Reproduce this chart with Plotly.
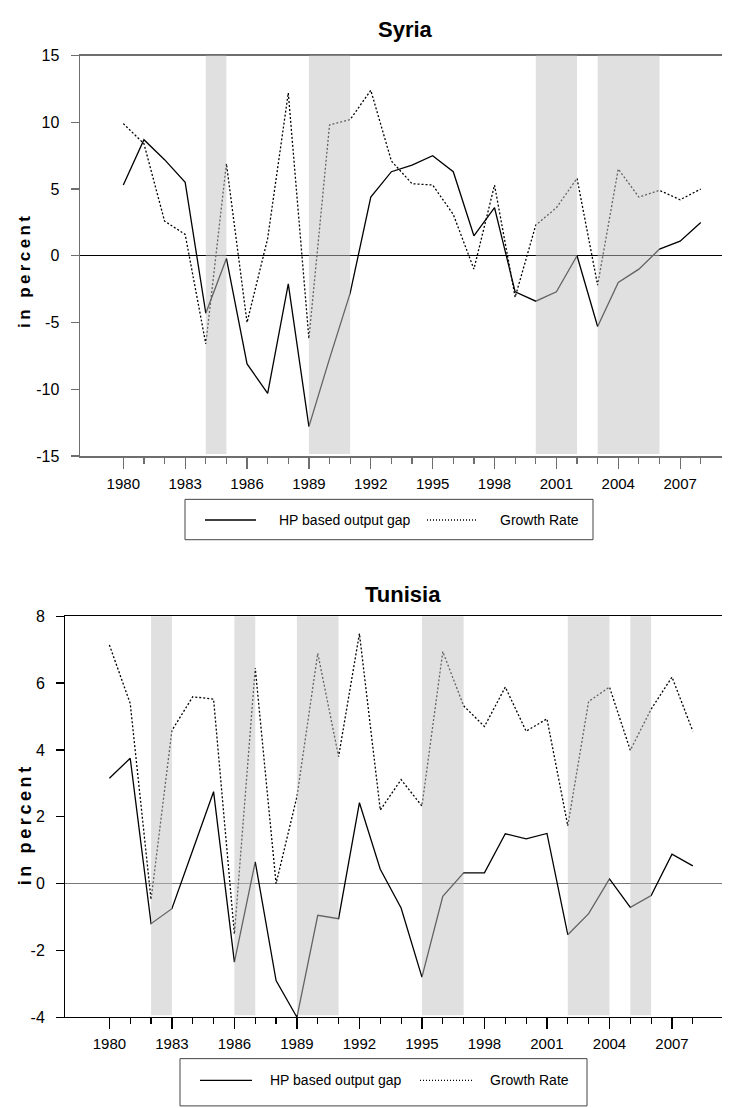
import plotly.graph_objects as go

# ---------------- data ----------------
years = list(range(1980, 2009))

syria_hp = [5.3, 8.7, 7.2, 5.5, -4.3, -0.2, -8.1, -10.3, -2.1, -12.8, -7.7, -2.8,
            4.4, 6.3, 6.8, 7.5, 6.3, 1.5, 3.6, -2.7, -3.4, -2.7, 0.0, -5.3,
            -2.0, -1.0, 0.5, 1.1, 2.5]
syria_growth = [9.9, 8.4, 2.6, 1.6, -6.6, 6.9, -5.0, 1.3, 12.2, -6.2, 9.8, 10.2,
                12.4, 7.1, 5.4, 5.3, 3.1, -1.0, 5.3, -3.1, 2.3, 3.6, 5.8, -2.2,
                6.5, 4.4, 4.9, 4.2, 5.0]

tunisia_hp = [3.15, 3.75, -1.2, -0.75, 1.0, 2.75, -2.35, 0.65, -2.9, -4.0, -0.95, -1.05,
              2.42, 0.43, -0.73, -2.8, -0.38, 0.32, 0.32, 1.49, 1.34, 1.5, -1.53, -0.9,
              0.14, -0.71, -0.36, 0.88, 0.53]
tunisia_growth = [7.14, 5.39, -0.48, 4.58, 5.59, 5.52, -1.51, 6.45, 0.0, 2.6, 6.89, 3.8,
                  7.48, 2.2, 3.11, 2.32, 6.94, 5.32, 4.7, 5.88, 4.56, 4.93, 1.73, 5.45,
                  5.88, 3.99, 5.22, 6.18, 4.56]

syria_shades = [(1984, 1985), (1989, 1991), (2000, 2002), (2003, 2006)]
tunisia_shades = [(1982, 1983), (1986, 1987), (1989, 1991), (1995, 1997), (2002, 2004), (2005, 2006)]

x_tick_vals = list(range(1980, 2009, 3))
x_tick_labels = [str(y) for y in x_tick_vals]
syria_y_ticks = [-15, -10, -5, 0, 5, 10, 15]
tunisia_y_ticks = [-4, -2, 0, 2, 4, 6, 8]

series_names = ["HP based output gap", "Growth Rate"]
titles = ["Syria", "Tunisia"]
y_title = "in percent"

# ---------------- layout helpers ----------------
W, H = 730, 1108
FONT = "Liberation Sans, Arial, sans-serif"


def px(x):
    return x / W


def py(y):
    return 1 - y / H


fig = go.Figure()

for i, (hp, gr) in enumerate([(syria_hp, syria_growth), (tunisia_hp, tunisia_growth)]):
    xa = "x" if i == 0 else "x2"
    ya = "y" if i == 0 else "y2"
    fig.add_trace(go.Scatter(x=years, y=hp, mode="lines", name=series_names[0],
                             line=dict(color="black", width=1.3), xaxis=xa, yaxis=ya,
                             showlegend=False, hoverinfo="skip"))
    fig.add_trace(go.Scatter(x=years, y=gr, mode="lines", name=series_names[1],
                             line=dict(color="black", width=1.3, dash="2px,2px"),
                             xaxis=xa, yaxis=ya, showlegend=False, hoverinfo="skip"))

shapes = []
for i, shades in enumerate([syria_shades, tunisia_shades]):
    xr = "x" if i == 0 else "x2"
    yr = "y domain" if i == 0 else "y2 domain"
    for a, b in shades:
        shapes.append(dict(type="rect", xref=xr, yref=yr, x0=a, x1=b, y0=0.005, y1=1,
                           fillcolor="rgb(195,195,195)", opacity=0.51,
                           line=dict(width=0), layer="above"))

# legends (decoration)
legend_boxes = [
    dict(box=(185, 499, 593, 540), solid=(205, 256), dotted=(427, 478), ly=520,
         t1=277, t2=498),
    dict(box=(180, 1067, 587, 1115), solid=(200, 252), dotted=(420, 472), ly=1089,
         t1=268, t2=488),
]
annotations = []
for lb in legend_boxes:
    x0, y0, x1, y1 = lb["box"]
    shapes.append(dict(type="rect", xref="paper", yref="paper", x0=px(x0), x1=px(x1),
                       y0=py(y0), y1=py(y1), line=dict(color="#444444", width=1),
                       fillcolor="rgba(0,0,0,0)"))
    shapes.append(dict(type="line", xref="paper", yref="paper", x0=px(lb["solid"][0]),
                       x1=px(lb["solid"][1]), y0=py(lb["ly"]), y1=py(lb["ly"]),
                       line=dict(color="black", width=1.3)))
    shapes.append(dict(type="line", xref="paper", yref="paper", x0=px(lb["dotted"][0]),
                       x1=px(lb["dotted"][1]), y0=py(lb["ly"]), y1=py(lb["ly"]),
                       line=dict(color="black", width=1.3, dash="1px,2px")))
    annotations.append(dict(xref="paper", yref="paper", x=px(lb["t1"]), y=py(lb["ly"]),
                            text=series_names[0], showarrow=False, xanchor="left",
                            yanchor="middle", font=dict(family=FONT, size=14, color="black")))
    annotations.append(dict(xref="paper", yref="paper", x=px(lb["t2"]), y=py(lb["ly"]),
                            text=series_names[1], showarrow=False, xanchor="left",
                            yanchor="middle", font=dict(family=FONT, size=14, color="black")))

# titles
annotations.append(dict(xref="paper", yref="paper", x=px(405), y=py(22), text="<b>Syria</b>",
                        showarrow=False, xanchor="center", yanchor="middle",
                        font=dict(family=FONT, size=22, color="black")))
annotations.append(dict(xref="paper", yref="paper", x=px(403), y=py(596), text="<b>Tunisia</b>",
                        showarrow=False, xanchor="center", yanchor="middle",
                        font=dict(family=FONT, size=22, color="black")))
spaced = "\u2009".join(list(y_title))
annotations.append(dict(xref="paper", yref="paper", x=px(25), y=py(268), text="<b>" + spaced + "</b>",
                        showarrow=False, textangle=-90, xanchor="center", yanchor="middle",
                        font=dict(family=FONT, size=17, color="black")))
annotations.append(dict(xref="paper", yref="paper", x=px(25), y=py(831), text="<b>" + spaced + "</b>",
                        showarrow=False, textangle=-90, xanchor="center", yanchor="middle",
                        font=dict(family=FONT, size=18, color="black")))

xtickfont = dict(family=FONT, size=15, color="black")
ytickfont = dict(family=FONT, size=16, color="black")


def xaxis(domain, rng, color, lw, anchor):
    return dict(domain=domain, range=rng, anchor=anchor, showgrid=False, zeroline=False,
                showline=True, linecolor=color, linewidth=lw, mirror=True,
                tickmode="array", tickvals=x_tick_vals, ticktext=x_tick_labels,
                ticks="outside", ticklen=11, tickwidth=1.2, tickcolor=color,
                minor=dict(tickmode="array", tickvals=years, ticks="outside", ticklen=6,
                           tickwidth=1.2, tickcolor=color, showgrid=False),
                tickfont=xtickfont, ticklabelstandoff=2, fixedrange=True)


def yaxis(domain, rng, ticks, color, lw, zcolor, zw, anchor):
    return dict(domain=domain, range=rng, anchor=anchor, showgrid=False,
                zeroline=True, zerolinecolor=zcolor, zerolinewidth=zw,
                showline=True, linecolor=color, linewidth=lw, mirror=False,
                tickmode="array", tickvals=ticks, ticktext=[str(t) for t in ticks],
                ticks="outside", ticklen=8, tickwidth=1.2, tickcolor=color,
                tickfont=ytickfont, ticklabelstandoff=8, fixedrange=True)


fig.update_layout(
    width=W, height=H, margin=dict(l=0, r=0, t=0, b=0),
    paper_bgcolor="white", plot_bgcolor="white",
    xaxis=xaxis([px(80), px(722)], [1977.9, 2009.03], "#6e6e6e", 1.5, "y"),
    yaxis=yaxis([py(455), py(48.3)], [-15, 15], syria_y_ticks, "#6e6e6e", 1.5, "black", 1, "x"),
    xaxis2=xaxis([px(65), px(722)], [1977.87, 2009.4], "black", 1, "y2"),
    yaxis2=yaxis([py(1025), py(617.7)], [-4, 8], tunisia_y_ticks, "black", 1, "#777777", 1.5, "x2"),
    shapes=shapes, annotations=annotations, showlegend=False, hovermode=False,
)

fig.write_html("out.html", config={"displayModeBar": False, "staticPlot": True},
               post_script="document.body.style.margin='0';document.body.style.overflow='hidden';")
